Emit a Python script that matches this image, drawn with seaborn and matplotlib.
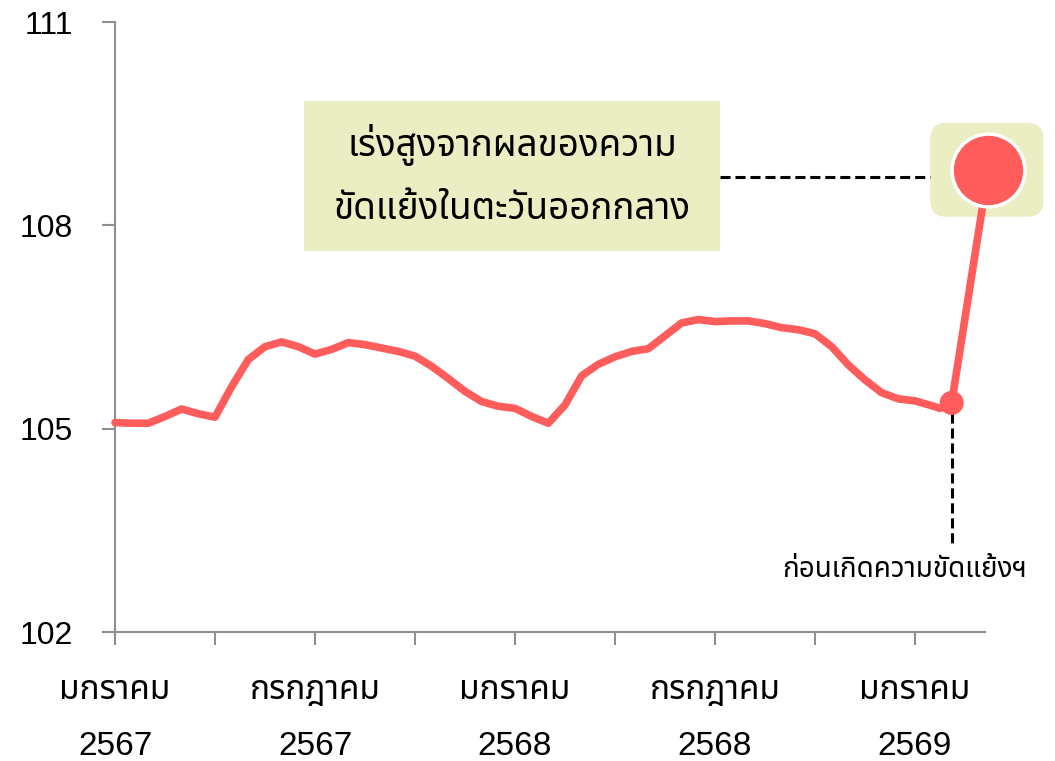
import matplotlib
matplotlib.use("Agg")
import matplotlib.pyplot as plt
import matplotlib.patches as mpatches
import matplotlib.transforms as mtransforms
import pandas as pd
import seaborn as sns

# months counted from January 2567, half-month readings
months = [0, 0.5, 1, 1.5, 2, 2.5, 3, 3.5, 4, 4.5, 5, 5.5, 6, 6.5, 7, 7.5, 8, 8.5,
          9, 9.5, 10, 10.5, 11, 11.5, 12, 12.5, 13, 13.5, 14, 14.5, 15, 15.5, 16,
          16.5, 17, 17.5, 18, 18.5, 19, 19.5, 20, 20.5, 21, 21.5, 22, 22.5, 23,
          23.5, 24, 24.5, 24.75]
index = [105.09, 105.08, 105.08, 105.18, 105.29, 105.22, 105.17, 105.62, 106.02,
         106.21, 106.28, 106.21, 106.10, 106.17, 106.27, 106.24, 106.19, 106.14,
         106.07, 105.92, 105.74, 105.55, 105.40, 105.33, 105.30, 105.18, 105.08,
         105.35, 105.78, 105.95, 106.06, 106.14, 106.18, 106.37, 106.56, 106.61,
         106.58, 106.59, 106.59, 106.55, 106.49, 106.46, 106.40, 106.21, 105.94,
         105.72, 105.53, 105.44, 105.41, 105.34, 105.30]
before_x, before_y = 25.1, 105.38
peak_x, peak_y = 26.2, 108.82

major_ticks = [0, 6, 12, 18, 24]
minor_ticks = [3, 9, 15, 21]
x_labels = ["มกราคม\n2567", "กรกฎาคม\n2567", "มกราคม\n2568", "กรกฎาคม\n2568", "มกราคม\n2569"]
y_ticks = [102, 105, 108, 111]
box_text = "เร่งสูงจากผลของความ\nขัดแย้งในตะวันออกกลาง"
before_text = "ก่อนเกิดความขัดแย้งฯ"

RED = "#ff5c5c"
PALE = "#ebeec3"
GREY = "#8f8f8f"
FONTS = ["Liberation Sans", "Noto Sans Thai", "DejaVu Sans"]
THAI = ["Noto Sans Thai", "DejaVu Sans"]

sns.set_style("ticks")
plt.rcParams["font.family"] = FONTS
plt.rcParams["text.color"] = "black"

dados = pd.DataFrame({"month": months + [before_x, peak_x],
                      "value": index + [before_y, peak_y]})

fig = plt.figure(figsize=(10.55, 7.61), dpi=100)
ax = fig.add_axes([115 / 1055, 1 - 632 / 761, 870 / 1055, 610 / 761])

sns.lineplot(x="month", y="value", data=dados, color=RED, linewidth=5.5,
             sort=False, ax=ax, zorder=3, clip_on=False)
for l in ax.lines:
    l.set_solid_joinstyle("round")
    l.set_solid_capstyle("round")

ax.set_xlim(0, 26.1)
ax.set_ylim(102, 111)
ax.set_xlabel("")
ax.set_ylabel("")

# highlight box behind the peak
trans = fig.dpi_scale_trans + mtransforms.ScaledTranslation(peak_x, peak_y, ax.transData)
ax.add_patch(mpatches.FancyBboxPatch((-0.58, -0.47), 1.13, 0.94,
                                     boxstyle="round,pad=0,rounding_size=0.16",
                                     transform=trans, facecolor=PALE, edgecolor="none",
                                     clip_on=False, zorder=2))
ax.scatter([peak_x], [peak_y], s=2750, color=RED, edgecolors="white", linewidths=2.5,
           zorder=5, clip_on=False)
ax.scatter([before_x], [before_y], s=300, color=RED, edgecolors="none", zorder=5, clip_on=False)

# annotation box
ax.add_patch(mpatches.Rectangle((0.2172, 0.6246), 0.4782, 0.2459, transform=ax.transAxes,
                                facecolor=PALE, edgecolor="none", clip_on=False, zorder=2))
ax.text(0.4563, 0.7475, box_text, transform=ax.transAxes, ha="center", va="center",
        fontsize=26.5, linespacing=1.95, family=THAI, color="black", zorder=4)
ax.plot([0.6954, 0.9368], [0.7459, 0.7459], transform=ax.transAxes, color="black",
        linewidth=2.2, dashes=(3.3, 1.6), clip_on=False, zorder=4)

# marker for the last reading before the conflict
ax.plot([before_x, before_x], [before_y - 0.15, 103.28], color="black", linewidth=2.2,
        dashes=(3.3, 1.6), zorder=4)
ax.text(23.7, 102.91, before_text, ha="center", va="center", fontsize=20,
        family=THAI, color="black", zorder=4, clip_on=False)

ax.set_xticks(major_ticks)
ax.set_xticks(minor_ticks, minor=True)
ax.set_xticklabels(x_labels, fontsize=24, linespacing=2.05)
ax.set_yticks(y_ticks)
ax.set_yticklabels([str(v) for v in y_ticks], fontsize=23)

for s in ["top", "right"]:
    ax.spines[s].set_visible(False)
for s in ["left", "bottom"]:
    ax.spines[s].set_color(GREY)
    ax.spines[s].set_linewidth(1.5)
ax.tick_params(axis="x", which="both", length=9, width=1.5, color=GREY,
               labelcolor="black", pad=22)
ax.tick_params(axis="y", length=9.5, width=1.5, color=GREY, labelcolor="black", pad=21)

fig.savefig("out.png", dpi=100)
